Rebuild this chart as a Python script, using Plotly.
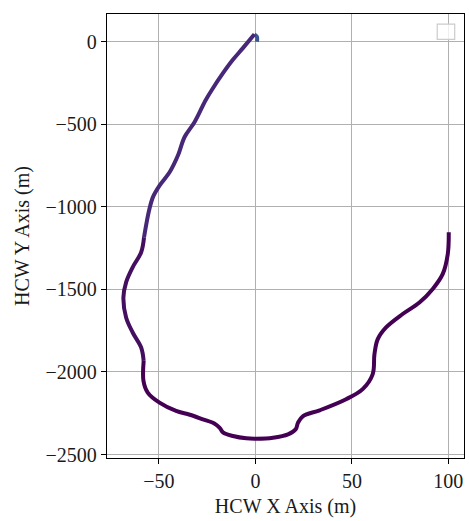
import plotly.graph_objects as go

# Trajectory (HCW coordinates, metres)
x_vals = [0.8, 0.8, -0.5, -6.6, -11.8, -16.9, -22.1, -25.8, -31.5, -36.7, -40.1, -44.4,
          -49.6, -53.1, -55.1, -56.5, -57.7, -59.2, -63.6, -67.0, -68.4, -67.0, -63.6,
          -59.2, -57.9, -58.0, -55.8, -49.7, -41.1, -34.0, -27.2, -21.1, -18.5, -16.8,
          -11.6, -4.7, 0.5, 9.1, 16.9, 20.9, 22.1, 24.7, 33.3, 47.0, 55.6, 60.8, 61.7,
          63.4, 67.7, 76.3, 85.0, 91.9, 97.1, 99.7, 100.2]
y_vals = [0, 30, 45, -40, -111, -192, -283, -354, -486, -577, -688, -789,
          -870, -941, -1022, -1103, -1184, -1275, -1366, -1457, -1548, -1670, -1761,
          -1852, -1933, -2054, -2125, -2186, -2236, -2259, -2287, -2313, -2338, -2366,
          -2388, -2402, -2404, -2398, -2378, -2347, -2307, -2267, -2232, -2165, -2104,
          -2013, -1892, -1801, -1730, -1649, -1579, -1497, -1406, -1285, -1154]
# colour groups along the track: (start index, end index, colour)
seg_groups = [(0, 2, "#3b5791"), (2, 16, "#472777"),
              (16, 24, "#450f60"), (24, len(x_vals) - 1, "#440154")]

x_ticks = [-50, 0, 50, 100]
y_ticks = [0, -500, -1000, -1500, -2000, -2500]

fig = go.Figure()
for s, e, c in seg_groups:
    fig.add_trace(go.Scatter(x=x_vals[s:e + 1], y=y_vals[s:e + 1], mode="lines",
                             line=dict(color=c, width=4, shape="spline", smoothing=1.0),
                             showlegend=False, hoverinfo="skip"))

font = dict(family="Liberation Serif", size=20, color="#1a1a1a")
axis_common = dict(showgrid=True, gridcolor="#b0b0b0", gridwidth=1.2, zeroline=False,
                   showline=True, linecolor="black", linewidth=1.4, mirror=True,
                   ticks="outside", ticklen=5, tickcolor="black", tickfont=font)

fig.update_xaxes(range=[-76.9, 108.1], tickvals=x_ticks,
                 title=dict(text="HCW X Axis (m)", font=dict(family="Liberation Serif", size=20, color="#1a1a1a"), standoff=7),
                 **axis_common)
fig.update_yaxes(range=[-2521, 168], tickvals=y_ticks,
                 title=dict(text="HCW Y Axis (m)", font=dict(family="Liberation Serif", size=20, color="#1a1a1a"), standoff=10),
                 **axis_common)

# empty legend frame (top right)
fig.add_shape(type="rect", xref="paper", yref="paper", x0=0.925, x1=0.974, y0=0.943, y1=0.977,
              line=dict(color="#cccccc", width=1.2), fillcolor="rgba(255,255,255,0.8)")

fig.update_layout(width=469, height=521, margin=dict(l=107, r=5, t=14, b=63),
                  plot_bgcolor="white", paper_bgcolor="white", showlegend=False)

fig.write_html("out.html")
